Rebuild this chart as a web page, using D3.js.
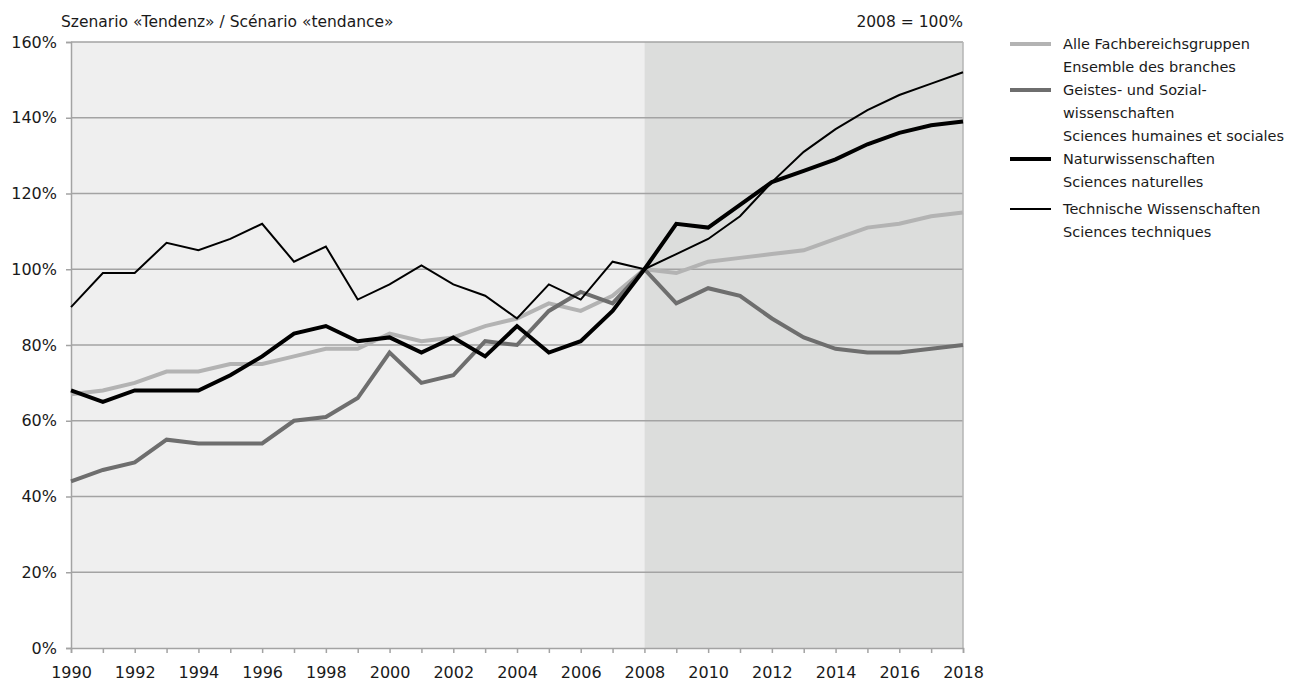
<!DOCTYPE html>
<html>
<head>
<meta charset="utf-8">
<script src="https://cdn.jsdelivr.net/npm/d3@7"></script>
<style>
  body { margin: 0; background: #fff; }
  text { font-family: "DejaVu Sans", sans-serif; fill: #1a1a1a; }
</style>
</head>
<body>
<div id="chart"></div>
<script>
// years 1990 - 2018, index 2008 = 100
var years = d3.range(1990, 2019);
var alle = [67, 68, 70, 73, 73, 75, 75, 77, 79, 79, 83, 81, 82, 85, 87, 91, 89, 93, 100, 99, 102, 103, 104, 105, 108, 111, 112, 114, 115];
var geistes = [44, 47, 49, 55, 54, 54, 54, 60, 61, 66, 78, 70, 72, 81, 80, 89, 94, 91, 100, 91, 95, 93, 87, 82, 79, 78, 78, 79, 80];
var natur = [68, 65, 68, 68, 68, 72, 77, 83, 85, 81, 82, 78, 82, 77, 85, 78, 81, 89, 100, 112, 111, 117, 123, 126, 129, 133, 136, 138, 139];
var technik = [90, 99, 99, 107, 105, 108, 112, 102, 106, 92, 96, 101, 96, 93, 87, 96, 92, 102, 100, 104, 108, 114, 123, 131, 137, 142, 146, 149, 152];
var yTicks = [0, 20, 40, 60, 80, 100, 120, 140, 160];
var xLabels = d3.range(1990, 2019, 2);

var series = [
  { name: ["Alle Fachbereichsgruppen", "Ensemble des branches"], values: alle, color: "#b3b3b3", width: 4 },
  { name: ["Geistes- und Sozial-", "wissenschaften", "Sciences humaines et sociales"], values: geistes, color: "#6e6e6e", width: 4 },
  { name: ["Naturwissenschaften", "Sciences naturelles"], values: natur, color: "#000", width: 4 },
  { name: ["Technische Wissenschaften", "Sciences techniques"], values: technik, color: "#000", width: 2 }
];

var width = 1290, height = 684;
var margin = { top: 42, right: 327, bottom: 36, left: 71 };

var svg = d3.select("#chart").append("svg")
    .attr("width", width)
    .attr("height", height);

var x = d3.scaleLinear().domain([1990, 2018]).range([margin.left, width - margin.right]);
var y = d3.scaleLinear().domain([0, 160]).range([height - margin.bottom, margin.top]);

// plot background, forecast part darker
svg.append("rect")
    .attr("x", x(1990)).attr("y", y(160))
    .attr("width", x(2008) - x(1990)).attr("height", y(0) - y(160))
    .style("fill", "#efefef");
svg.append("rect")
    .attr("x", x(2008)).attr("y", y(160))
    .attr("width", x(2018) - x(2008)).attr("height", y(0) - y(160))
    .style("fill", "#dcdddc");

// gridlines
svg.selectAll("line.grid")
    .data(yTicks.filter(d => d > 0))
    .enter()
    .append("line")
    .attr("class", "grid")
    .attr("x1", x(1990)).attr("x2", x(2018))
    .attr("y1", d => y(d)).attr("y2", d => y(d))
    .style("stroke", "#a3a3a3")
    .style("stroke-width", 1.5);

svg.append("line")
    .attr("x1", x(2018)).attr("x2", x(2018))
    .attr("y1", y(0)).attr("y2", y(160))
    .style("stroke", "#b5b5b5").style("stroke-width", 1.5);

// y axis
var yAxis = svg.append("g")
    .attr("transform", "translate(" + x(1990) + ",0)")
    .call(d3.axisLeft(y).tickValues(yTicks).tickFormat(d => d + "%").tickSize(5).tickPadding(9));
yAxis.select(".domain").style("stroke", "#a3a3a3").style("stroke-width", 1.5);
yAxis.selectAll(".tick line").style("stroke", "#a3a3a3").style("stroke-width", 1.5);
yAxis.selectAll("text").style("font-size", "16px").style("font-family", "DejaVu Sans, sans-serif").style("fill", "#1a1a1a");

// x axis, ticks every year, labels every 2 years
var xAxis = svg.append("g")
    .attr("transform", "translate(0," + y(0) + ")")
    .call(d3.axisBottom(x).tickValues(years).tickSize(5).tickPadding(14)
        .tickFormat(d => xLabels.includes(d) ? d : ""));
xAxis.select(".domain").style("stroke", "#a3a3a3").style("stroke-width", 1.5);
xAxis.selectAll(".tick line").style("stroke", "#a3a3a3").style("stroke-width", 1.5);
xAxis.selectAll("text").style("font-size", "16px").style("font-family", "DejaVu Sans, sans-serif").style("fill", "#1a1a1a");

// lines
var line = d3.line()
    .x((d, i) => x(years[i]))
    .y(d => y(d));

svg.selectAll("path.series")
    .data(series)
    .enter()
    .append("path")
    .attr("class", "series")
    .attr("d", d => line(d.values))
    .style("fill", "none")
    .style("stroke", d => d.color)
    .style("stroke-width", d => d.width)
    .style("stroke-linejoin", "miter");

// titles
svg.append("text")
    .attr("x", x(1990) - 10).attr("y", 27)
    .style("font-size", "15.5px")
    .text("Szenario «Tendenz» / Scénario «tendance»");
svg.append("text")
    .attr("x", x(2018)).attr("y", 27)
    .attr("text-anchor", "end")
    .style("font-size", "15.5px")
    .text("2008 = 100%");

// legend
var legendY = [44, 90, 159, 209];
var legend = svg.selectAll("g.legend")
    .data(series)
    .enter()
    .append("g")
    .attr("class", "legend")
    .attr("transform", (d, i) => "translate(1010," + legendY[i] + ")");

legend.append("line")
    .attr("x1", 0).attr("x2", 41)
    .attr("y1", 0).attr("y2", 0)
    .style("stroke", d => d.color)
    .style("stroke-width", d => d.width);

legend.each(function(d) {
    var t = d3.select(this).append("text")
        .attr("x", 53).attr("y", 5)
        .style("font-size", "14.5px");
    d.name.forEach((s, j) => {
        t.append("tspan").attr("x", 53).attr("dy", j == 0 ? 0 : 23).text(s);
    });
});
</script>
</body>
</html>
